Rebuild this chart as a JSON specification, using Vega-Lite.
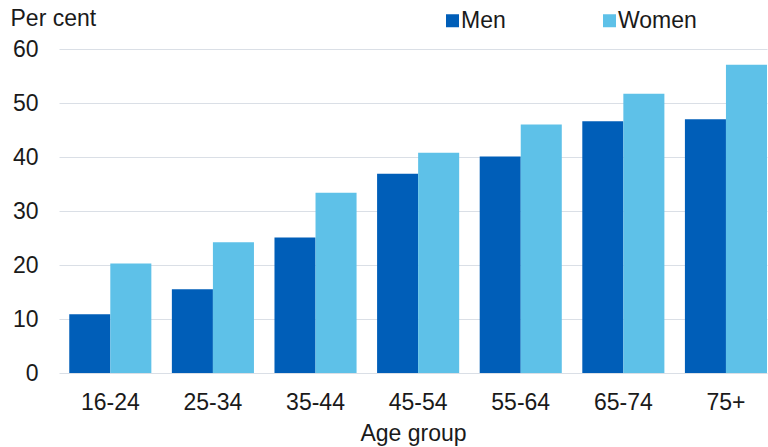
{
  "$schema": "https://vega.github.io/schema/vega-lite/v6.json",
  "autosize": {"type": "none"},
  "padding": {"left": 59, "top": 49, "right": 1, "bottom": 74},
  "width": 708,
  "height": 324,
  "background": "white",
  "config": {
    "font": "Liberation Sans",
    "view": {"stroke": null}
  },
  "data": {
    "values": [
      {"age": "16-24", "sex": "Men", "pct": 10.9},
      {"age": "16-24", "sex": "Women", "pct": 20.3},
      {"age": "25-34", "sex": "Men", "pct": 15.5},
      {"age": "25-34", "sex": "Women", "pct": 24.2},
      {"age": "35-44", "sex": "Men", "pct": 25.1},
      {"age": "35-44", "sex": "Women", "pct": 33.4},
      {"age": "45-54", "sex": "Men", "pct": 36.9},
      {"age": "45-54", "sex": "Women", "pct": 40.8},
      {"age": "55-64", "sex": "Men", "pct": 40.1},
      {"age": "55-64", "sex": "Women", "pct": 46.0},
      {"age": "65-74", "sex": "Men", "pct": 46.6},
      {"age": "65-74", "sex": "Women", "pct": 51.7},
      {"age": "75+", "sex": "Men", "pct": 47.0},
      {"age": "75+", "sex": "Women", "pct": 57.1}
    ]
  },
  "mark": {"type": "bar"},
  "encoding": {
    "x": {
      "field": "age",
      "type": "nominal",
      "sort": null,
      "scale": {"paddingInner": 0.2, "paddingOuter": 0.05, "align": 1},
      "axis": {
        "title": "Age group",
        "titleFontSize": 23,
        "titleFontWeight": "normal",
        "titleColor": "#1a1a1a",
        "titleBaseline": "alphabetic",
        "titleY": 67,
        "labelAngle": 0,
        "labelFontSize": 23,
        "labelColor": "#1a1a1a",
        "labelPadding": 18,
        "domain": false,
        "ticks": false
      }
    },
    "xOffset": {"field": "sex", "type": "nominal", "sort": ["Men", "Women"]},
    "y": {
      "field": "pct",
      "type": "quantitative",
      "scale": {"domain": [0, 60], "nice": false},
      "axis": {
        "values": [0, 10, 20, 30, 40, 50, 60],
        "title": "Per cent",
        "titleAngle": 0,
        "titleAlign": "left",
        "titleBaseline": "alphabetic",
        "titleX": -49,
        "titleY": -24,
        "titleFontSize": 23,
        "titleFontWeight": "normal",
        "titleColor": "#1a1a1a",
        "labelFontSize": 23,
        "labelColor": "#1a1a1a",
        "labelPadding": 21,
        "domain": false,
        "ticks": false,
        "grid": true,
        "gridColor": "#dadfe6"
      }
    },
    "color": {
      "field": "sex",
      "type": "nominal",
      "scale": {"domain": ["Men", "Women"], "range": ["#005EB8", "#5EC1E8"]},
      "legend": {
        "title": null,
        "orient": "none",
        "legendX": 382,
        "legendY": -40,
        "direction": "horizontal",
        "symbolType": "square",
        "symbolSize": 169,
        "symbolStrokeWidth": 0,
        "symbolOpacity": 1,
        "labelFontSize": 23,
        "labelColor": "#1a1a1a",
        "labelOffset": -3,
        "columnPadding": 92
      }
    }
  }
}
